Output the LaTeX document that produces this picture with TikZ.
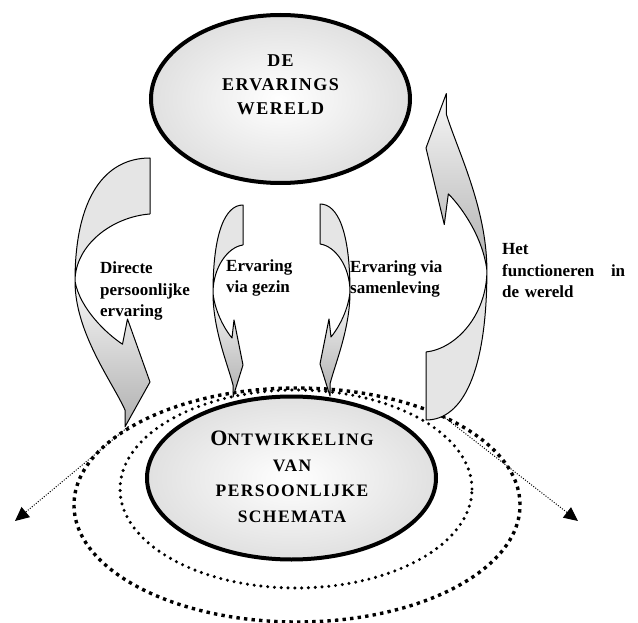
\documentclass[tikz,border=0pt]{standalone}
\usepackage{fontspec}
\setmainfont{Liberation Serif}
\newfontfamily\capsfont[LetterSpace=8]{Liberation Serif}
\usetikzlibrary{shapes.geometric,arrows.meta}

% bent ribbon arrow, tail corner at (0,0), head at the bottom
\newcommand{\ribbonarrow}{%
  %% light band: tail -> pinch
  \fill[gray!20] (0pt,0pt) .. controls (-18pt,0pt) and (-30pt,-28pt) .. (-30pt,-88pt)
    .. controls (-30pt,-62pt) and (-15pt,-42pt) .. (0pt,-40pt) -- cycle;
  %% shaded band: pinch -> head
  \shade[top color=gray!6, bottom color=gray!62] (-30pt,-88pt)
    .. controls (-30pt,-125pt) and (-15pt,-160pt) .. (-10pt,-180pt)
    -- (-10pt,-192pt) -- (0pt,-160pt) -- (-9pt,-115pt) -- (-11pt,-133pt)
    .. controls (-17pt,-126pt) and (-28pt,-108pt) .. (-30pt,-88pt) -- cycle;
  %% outline
  \draw[ribbon] (0pt,-40pt) -- (0pt,0pt)
    .. controls (-18pt,0pt) and (-30pt,-28pt) .. (-30pt,-88pt)
    .. controls (-30pt,-125pt) and (-15pt,-160pt) .. (-10pt,-180pt)
    -- (-10pt,-192pt) -- (0pt,-160pt) -- (-9pt,-115pt) -- (-11pt,-133pt)
    .. controls (-17pt,-126pt) and (-28pt,-108pt) .. (-30pt,-88pt)
    .. controls (-30pt,-62pt) and (-15pt,-42pt) .. (0pt,-40pt);
}

\begin{document}
\begin{tikzpicture}[
  oval/.style={ellipse, draw, line width=4pt, shading=radial,
    inner color=white, outer color=gray!24},
  ribbon/.style={line width=1pt, line join=round},
  ripple/.style={ellipse, draw, line width=3.4pt, dash pattern=on 3.4pt off 4.2pt},
  smallripple/.style={ellipse, draw, line width=3.4pt, line cap=round,
    dash pattern=on 0pt off 6.8pt},
  spread/.style={line width=1pt, dash pattern=on 1pt off 1.6pt,
    -{Triangle[length=14pt,width=13pt]}},
  remark/.style={font=\bfseries\fontsize{17}{21.5}\selectfont, align=left,
    anchor=west, inner sep=0pt},
  heading/.style={font=\capsfont\bfseries\fontsize{18}{24}\selectfont, align=center,
    inner sep=0pt}
]
  \useasboundingbox (0pt,0pt) rectangle (638pt,-623pt);

  %% ripples round the lower oval
  \node[ripple, minimum width=446pt, minimum height=234pt] (outer) at (297pt,-505pt) {};
  \node[smallripple, minimum width=352pt, minimum height=198pt] (inner) at (296pt,-489pt) {};

  \coordinate (fanL) at (15pt,-521pt);
  \coordinate (fanR) at (578pt,-521pt);
  \draw[spread] (outer.155) -- (fanL); %% outward, left
  \draw[spread] (outer.33) -- (fanR);  %% outward, right

  %% the four bent arrows
  \begin{scope}[shift={(150pt,-158pt)}, xscale=2.5, yscale=1.4]
    \ribbonarrow
  \end{scope}
  \begin{scope}[shift={(243pt,-205pt)}]
    \ribbonarrow
  \end{scope}
  \begin{scope}[shift={(320pt,-204pt)}, xscale=-1]
    \ribbonarrow
  \end{scope}
  \begin{scope}[shift={(426pt,-420pt)}, rotate=180, xscale=2.03, yscale=1.7]
    \ribbonarrow
  \end{scope}

  %% the two ovals
  \node[oval, minimum width=259pt, minimum height=168pt] (world) at (280.5pt,-99pt) {};
  \node[heading] (worldtext) at (280.5pt,-85pt) {DE\\ERVARINGS\\WERELD};

  \node[oval, minimum width=289pt, minimum height=163pt] (schemata) at (291.5pt,-478pt) {};
  \node[heading, font=\capsfont\bfseries\fontsize{17.5}{25.5}\selectfont]
    (schematatext) at (292pt,-477pt)
    {{\fontsize{22}{25.5}\selectfont O}NTWIKKELING\\VAN\\PERSOONLIJKE\\SCHEMATA};

  %% labels beside the arrows
  \node[remark] (direct) at (100pt,-291pt) {Directe\\persoonlijke\\ervaring};
  \node[remark] (family) at (226pt,-278pt) {Ervaring\\via gezin};
  \node[remark] (society) at (350pt,-279pt) {Ervaring via\\samenleving};
  \node[remark, text width=123pt] (living) at (502pt,-271pt)
    {Het\\functioneren\hfill in\\de wereld};
\end{tikzpicture}
\end{document}
